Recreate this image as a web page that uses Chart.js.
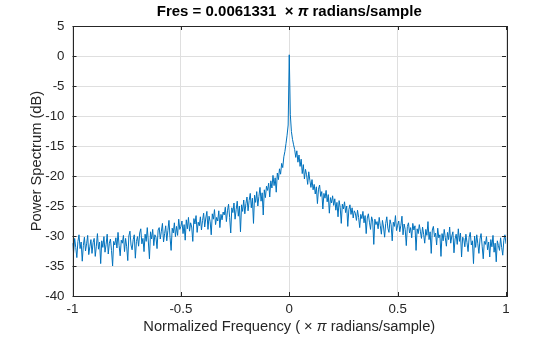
<!DOCTYPE html>
<html>
<head>
<meta charset="utf-8">
<script src="https://cdn.jsdelivr.net/npm/chart.js@4"></script>
<style>
  html, body { margin: 0; padding: 0; background: #fff; }
  #wrap { width: 560px; height: 337px; }
</style>
</head>
<body>
<div id="wrap"><canvas id="psd"></canvas></div>
<script>
// frequency grid (x pi rad/sample), one value per bin
const freqStart = -1;
const freqStep = 0.005;

// power spectrum in dB
const powerDb = [
  // -1.0 .. -0.905
  -31.2, -32.8, -30.4, -31.9, -33.6, -30.9, -29.8, -32.1, -31.0, -34.2, -31.6, -30.2, -32.5, -31.3, -29.9, -33.1, -31.8, -30.6, -32.9, -31.1,
  // -0.9 .. -0.805
  -30.4, -33.4, -31.7, -29.6, -32.2, -31.0, -34.6, -30.8, -31.9, -30.1, -32.7, -31.4, -29.7, -33.0, -31.2, -30.5, -32.4, -35.0, -30.9, -31.5,
  // -0.8 .. -0.705
  -30.3, -32.0, -29.4, -31.6, -33.3, -30.7, -31.2, -29.9, -32.6, -30.4, -31.8, -34.1, -30.0, -29.2, -31.5, -32.3, -30.6, -29.8, -33.7, -30.9,
  // -0.7 .. -0.605
  -30.1, -31.7, -29.5, -28.8, -31.3, -30.4, -32.6, -29.7, -30.9, -28.6, -31.0, -33.8, -29.3, -30.5, -28.9, -31.6, -29.8, -30.2, -32.1, -29.0,
  // -0.6 .. -0.505
  -28.6, -30.5, -29.2, -27.9, -31.0, -29.6, -28.3, -30.8, -29.1, -27.4, -30.2, -32.4, -28.7, -29.5, -27.8, -30.1, -28.4, -29.9, -27.2, -28.9,
  // -0.5 .. -0.405
  -28.4, -27.5, -29.6, -28.1, -30.7, -27.3, -28.8, -26.9, -29.2, -27.8, -28.5, -30.9, -27.1, -28.0, -26.6, -29.4, -27.7, -28.3, -26.8, -29.0,
  // -0.4 .. -0.305
  -27.4, -26.2, -28.5, -27.0, -25.9, -28.9, -26.7, -27.6, -29.8, -26.3, -27.2, -25.6, -28.1, -26.9, -27.5, -25.8, -28.6, -26.4, -27.3, -26.0,
  // -0.3 .. -0.205
  -26.5, -25.2, -27.6, -25.8, -24.7, -26.9, -29.5, -25.3, -26.1, -24.5, -27.2, -25.6, -24.2, -26.7, -25.0, -29.3, -24.8, -25.9, -24.0, -26.3,
  // -0.2 .. -0.105
  -24.6, -23.5, -25.8, -24.1, -22.9, -25.3, -23.7, -27.9, -23.2, -24.4, -22.6, -25.0, -23.4, -21.9, -24.2, -22.8, -26.5, -22.3, -23.6, -21.7,
  // -0.1 .. -0.005
  -22.4, -21.2, -23.5, -20.8, -22.0, -19.9, -21.6, -20.3, -22.7, -19.5, -20.6, -18.8, -19.7, -17.9, -18.6, -16.8, -15.9, -14.6, -13.2, -11.5,
  // 0
  0.2,
  // 0.005 .. 0.1
  -9.8, -12.6, -13.9, -14.8, -15.6, -16.9, -15.8, -17.7, -16.5, -18.4, -17.2, -19.6, -18.1, -20.5, -18.9, -19.8, -21.4, -19.3, -20.7, -21.9,
  // 0.105 .. 0.2
  -20.6, -22.3, -21.4, -23.0, -21.8, -24.6, -22.2, -21.5, -23.4, -22.6, -25.5, -22.9, -23.7, -22.4, -24.3, -23.1, -26.2, -23.6, -24.5, -23.3,
  // 0.205 .. 0.3
  -24.9, -23.8, -25.7, -24.4, -26.8, -24.1, -25.2, -27.9, -24.7, -25.5, -24.3, -26.1, -25.0, -28.4, -25.6, -24.8, -26.4, -25.3, -27.0, -25.8,
  // 0.305 .. 0.4
  -26.2, -27.4, -25.7, -26.9, -28.6, -26.4, -27.1, -25.9, -27.8, -26.6, -29.6, -27.0, -26.3, -27.7, -28.9, -26.8, -27.5, -31.4, -27.2, -28.1,
  // 0.405 .. 0.5
  -27.6, -28.8, -26.9, -28.3, -29.7, -27.4, -28.5, -30.2, -27.9, -26.8, -28.7, -29.4, -27.3, -28.1, -30.8, -27.7, -28.4, -26.6, -29.1, -28.2,
  // 0.505 .. 0.6
  -27.5, -29.3, -28.2, -26.7, -29.8, -28.0, -28.9, -31.6, -28.4, -27.8, -29.5, -28.6, -30.3, -27.9, -29.0, -28.3, -32.4, -28.8, -29.6, -28.1,
  // 0.605 .. 0.7
  -29.2, -30.4, -28.5, -29.7, -31.2, -28.9, -29.9, -27.6, -30.6, -29.3, -32.9, -29.0, -28.4, -30.1, -29.5, -31.5, -28.7, -30.3, -29.8, -33.4,
  // 0.705 .. 0.8
  -29.6, -30.8, -28.9, -30.3, -31.7, -29.4, -30.6, -28.5, -31.2, -30.0, -29.3, -32.8, -30.5, -29.7, -31.4, -28.8, -30.9, -29.5, -33.5, -30.2,
  // 0.805 .. 0.9
  -30.4, -31.8, -29.7, -31.1, -32.6, -30.2, -29.4, -31.5, -30.8, -34.6, -30.0, -31.9, -29.8, -31.3, -32.9, -30.5, -29.6, -31.7, -33.8, -30.9,
  // 0.905 .. 1.0
  -31.4, -30.1, -32.3, -31.0, -33.5, -30.6, -31.8, -29.9, -32.7, -31.2, -34.3, -30.8, -31.6, -32.4, -30.3, -31.9, -33.2, -30.7, -29.8, -31.3
];

const xTicks = [-1, -0.5, 0, 0.5, 1];
const yTicks = [5, 0, -5, -10, -15, -20, -25, -30, -35, -40];

const titleParts = [["Fres = 0.0061331  \u00d7 ", false], ["\u03c0", true], [" radians/sample", false]];
const xLabelParts = [["Normalized Frequency ( \u00d7 ", false], ["\u03c0", true], [" radians/sample)", false]];
const yLabel = "Power Spectrum (dB)";

const points = powerDb.map((v, i) => ({ x: freqStart + i * freqStep, y: v }));

const FONT = "'Liberation Sans', Arial, Helvetica, sans-serif";
const AXIS_COLOR = "#262626";

function drawParts(ctx, parts, cx, y, size, bold) {
  const fontFor = (it) => (it ? "italic " : "") + (bold ? "bold " : "") + size + "px " + FONT;
  let total = 0;
  parts.forEach(([t, it]) => { ctx.font = fontFor(it); total += ctx.measureText(t).width; });
  let x = cx - total / 2;
  parts.forEach(([t, it]) => {
    ctx.font = fontFor(it);
    ctx.fillText(t, x, y);
    x += ctx.measureText(t).width;
  });
}

const frame = {
  id: "frame",
  afterDraw(chart) {
    const { ctx, chartArea: a, scales } = chart;
    ctx.save();
    // inward tick marks
    ctx.strokeStyle = AXIS_COLOR;
    ctx.lineWidth = 1;
    ctx.beginPath();
    xTicks.forEach(v => {
      const px = Math.round(scales.x.getPixelForValue(v)) + 0.5;
      ctx.moveTo(px, a.bottom); ctx.lineTo(px, a.bottom - 4);
      ctx.moveTo(px, a.top); ctx.lineTo(px, a.top + 4);
    });
    yTicks.forEach(v => {
      const py = Math.round(scales.y.getPixelForValue(v)) + 0.5;
      ctx.moveTo(a.left, py); ctx.lineTo(a.left + 4, py);
      ctx.moveTo(a.right, py); ctx.lineTo(a.right - 4, py);
    });
    ctx.stroke();
    // box
    ctx.strokeRect(Math.round(a.left) + 0.5, Math.round(a.top) + 0.5,
      Math.round(a.right - a.left), Math.round(a.bottom - a.top));

    ctx.fillStyle = "#000";
    ctx.textBaseline = "middle";
    ctx.textAlign = "left";
    const cx = (a.left + a.right) / 2;
    drawParts(ctx, titleParts, cx, 12, 15, true);
    ctx.fillStyle = AXIS_COLOR;
    drawParts(ctx, xLabelParts, cx, 327, 14.7, false);
    ctx.translate(37, (a.top + a.bottom) / 2);
    ctx.rotate(-Math.PI / 2);
    ctx.textAlign = "center";
    ctx.font = "14.7px " + FONT;
    ctx.fillText(yLabel, 0, 0);
    ctx.restore();
  }
};

new Chart(document.getElementById("psd"), {
  type: "line",
  data: {
    datasets: [{
      data: points,
      borderColor: "#0072BD",
      borderWidth: 1,
      pointRadius: 0,
      tension: 0,
      fill: false
    }]
  },
  options: {
    responsive: true,
    maintainAspectRatio: false,
    animation: false,
    layout: { padding: { top: 26, right: 54, left: 0, bottom: 0 } },
    plugins: {
      legend: { display: false },
      tooltip: { enabled: false }
    },
    scales: {
      x: {
        type: "linear",
        min: -1,
        max: 1,
        afterBuildTicks: (s) => { s.ticks = xTicks.map(v => ({ value: v })); },
        afterFit: (s) => { s.height = 41; },
        grid: { color: "#dfdfdf", drawTicks: false },
        border: { display: false },
        ticks: {
          padding: 5,
          color: AXIS_COLOR,
          font: { family: FONT, size: 13.3 },
          callback: (v) => String(v)
        }
      },
      y: {
        min: -40,
        max: 5,
        afterBuildTicks: (s) => { s.ticks = yTicks.map(v => ({ value: v })); },
        afterFit: (s) => { s.width = 72.5; },
        grid: { color: "#dfdfdf", drawTicks: false },
        border: { display: false },
        ticks: {
          padding: 8,
          color: AXIS_COLOR,
          font: { family: FONT, size: 13.3 },
          callback: (v) => String(v)
        }
      }
    }
  },
  plugins: [frame]
});
</script>
</body>
</html>
